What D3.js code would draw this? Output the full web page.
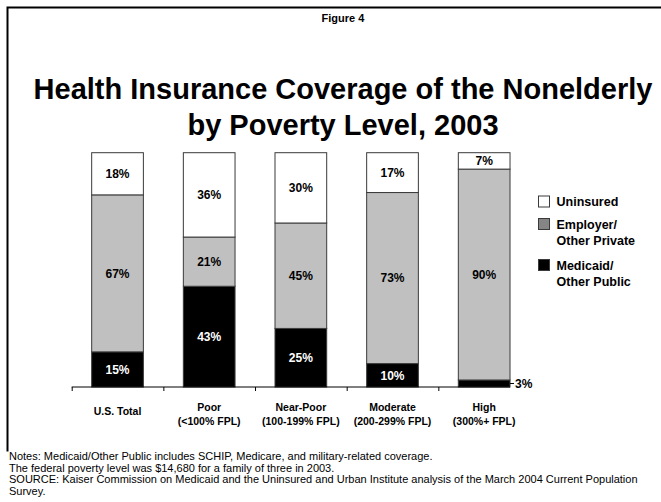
<!DOCTYPE html>
<html>
<head>
<meta charset="utf-8">
<script src="https://cdn.jsdelivr.net/npm/d3@7/dist/d3.min.js"></script>
<style>
  html, body { margin: 0; padding: 0; background: #fff; }
  svg { display: block; font-family: "Liberation Sans", Arial, sans-serif; }
</style>
</head>
<body>
<svg id="chart" width="661" height="502"></svg>
<script>
// Coverage shares (%) of the nonelderly by poverty level, 2003
const categories = ["U.S. Total", "Poor", "Near-Poor", "Moderate", "High"];
const categorySubLabels = ["", "(<100% FPL)", "(100-199% FPL)", "(200-299% FPL)", "(300%+ FPL)"];
const medicaidPublic = [15, 43, 25, 10, 3];
const employerPrivate = [67, 21, 45, 73, 90];
const uninsured = [18, 36, 30, 17, 7];

const seriesKeys = ["medicaid", "employer", "uninsured"];
const seriesNames = {
  uninsured: ["Uninsured"],
  employer: ["Employer/", "Other Private"],
  medicaid: ["Medicaid/", "Other Public"]
};
const fills = { medicaid: "#000000", employer: "#c0c0c0", uninsured: "#ffffff" };
const legendFills = { medicaid: "#000000", employer: "#858585", uninsured: "#ffffff" };

const rows = categories.map((c, i) => ({
  category: c,
  medicaid: medicaidPublic[i],
  employer: employerPrivate[i],
  uninsured: uninsured[i]
}));

const svg = d3.select("#chart");

// Frame
svg.append("path")
  .attr("d", "M7.5,451.5 V7.5 H661")
  .attr("fill", "none")
  .attr("stroke", "#000")
  .attr("stroke-width", 2);

// Headings
svg.append("text")
  .attr("x", 343).attr("y", 22)
  .attr("text-anchor", "middle")
  .attr("font-size", 11).attr("font-weight", "bold")
  .text("Figure 4");

const titleLines = ["Health Insurance Coverage of the Nonelderly", "by Poverty Level, 2003"];
svg.append("text")
  .attr("text-anchor", "middle")
  .attr("font-size", 29).attr("font-weight", "bold")
  .selectAll("tspan").data(titleLines).join("tspan")
  .attr("x", 343)
  .attr("y", (d, i) => 99 + i * 36)
  .text(d => d);

// Scales
const x = d3.scaleBand()
  .domain(categories)
  .range([71.7, 530])
  .paddingInner(0.436)
  .paddingOuter(0.218);

const y = d3.scaleLinear().domain([0, 100]).range([387, 152.7]);

const stacked = d3.stack().keys(seriesKeys)(rows);

const plot = svg.append("g");

const layers = plot.selectAll("g.layer")
  .data(stacked)
  .join("g")
  .attr("class", "layer")
  .attr("fill", d => fills[d.key]);

layers.selectAll("rect")
  .data(d => d.map(p => Object.assign(p, { key: d.key })))
  .join("rect")
  .attr("x", d => x(d.data.category))
  .attr("width", x.bandwidth())
  .attr("y", d => y(d[1]))
  .attr("height", d => y(d[0]) - y(d[1]))
  .attr("stroke", "#3a3a3a")
  .attr("stroke-width", 1);

// Segment value labels
const labels = [];
stacked.forEach(layer => {
  layer.forEach(p => {
    const v = p[1] - p[0];
    labels.push({ key: layer.key, cat: p.data.category, v, y0: p[0], y1: p[1] });
  });
});

const labelG = svg.append("g")
  .attr("font-size", 12).attr("font-weight", "bold");

labels.filter(d => d.v >= 5).forEach(d => {
  labelG.append("text")
    .attr("x", x(d.cat) + x.bandwidth() / 2)
    .attr("y", y((d.y0 + d.y1) / 2))
    .attr("dy", "0.36em")
    .attr("text-anchor", "middle")
    .attr("fill", d.key === "medicaid" ? "#fff" : "#000")
    .text(d.v + "%");
});

// Thin segments get an outside label with a short leader
labels.filter(d => d.v < 5).forEach(d => {
  const xr = x(d.cat) + x.bandwidth();
  const ym = y((d.y0 + d.y1) / 2);
  labelG.append("line")
    .attr("x1", xr).attr("x2", xr + 4)
    .attr("y1", ym).attr("y2", ym)
    .attr("stroke", "#000").attr("stroke-width", 1);
  labelG.append("text")
    .attr("x", xr + 5)
    .attr("y", ym)
    .attr("dy", "0.36em")
    .attr("fill", "#000")
    .text(d.v + "%");
});

// Category axis: ticks sit on the band boundaries
const idx = d3.scaleLinear()
  .domain([0, categories.length])
  .range([x.range()[0], x.range()[0] + x.step() * categories.length]);

const axisG = svg.append("g")
  .attr("transform", `translate(0,${y(0)})`)
  .call(d3.axisBottom(idx)
    .tickValues(d3.range(categories.length))
    .tickSize(4)
    .tickFormat(""));
axisG.select(".domain").remove();
axisG.selectAll(".tick line").attr("stroke", "#000");
axisG.append("line")
  .attr("x1", x.range()[0])
  .attr("x2", x(categories[categories.length - 1]) + x.bandwidth())
  .attr("stroke", "#000").attr("stroke-width", 1);

const catG = svg.append("g")
  .attr("font-size", 10.5).attr("font-weight", "bold")
  .attr("text-anchor", "middle");
categories.forEach((c, i) => {
  const cx = x(c) + x.bandwidth() / 2;
  const t = catG.append("text");
  if (categorySubLabels[i]) {
    t.append("tspan").attr("x", cx).attr("y", 410.5).text(c);
    t.append("tspan").attr("x", cx).attr("y", 424.5).text(categorySubLabels[i]);
  } else {
    t.append("tspan").attr("x", cx).attr("y", 414.5).text(c);
  }
});

// Legend
const legendOrder = ["uninsured", "employer", "medicaid"];
const legendY = { uninsured: 196, employer: 218.5, medicaid: 259.5 };
const legend = svg.append("g").attr("font-size", 12.5).attr("font-weight", "bold");
legendOrder.forEach(k => {
  const g = legend.append("g").attr("transform", `translate(538.5,${legendY[k]})`);
  g.append("rect")
    .attr("width", 11).attr("height", 11)
    .attr("fill", legendFills[k])
    .attr("stroke", "#3a3a3a").attr("stroke-width", 1);
  g.append("text")
    .selectAll("tspan").data(seriesNames[k]).join("tspan")
    .attr("x", 18)
    .attr("y", (d, i) => 10 + i * 16)
    .text(d => d);
});

// Notes
const notes = [
  "Notes: Medicaid/Other Public includes SCHIP, Medicare, and military-related coverage.",
  "The federal poverty level was $14,680 for a family of three in 2003.",
  "SOURCE: Kaiser Commission on Medicaid and the Uninsured and Urban Institute analysis of the March 2004 Current Population",
  "Survey."
];
svg.append("text")
  .attr("font-size", 11)
  .attr("fill", "#000")
  .selectAll("tspan").data(notes).join("tspan")
  .attr("x", 9)
  .attr("y", (d, i) => 460 + i * 11.5)
  .text(d => d);
</script>
</body>
</html>
